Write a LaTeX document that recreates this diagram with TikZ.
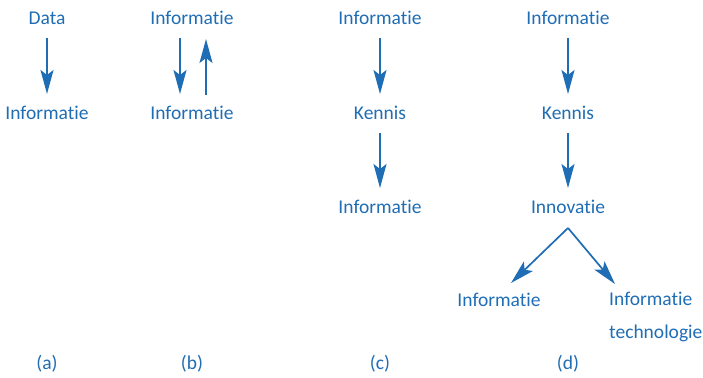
\documentclass[tikz,border=0pt]{standalone}
\usepackage{fontspec}
\setmainfont[Ligatures=NoCommon]{Carlito}
\usetikzlibrary{arrows.meta, positioning}
\definecolor{infoblue}{HTML}{1F6DB4}
\tikzset{
	term/.style={text=infoblue, font=\fontsize{19.5}{33}\selectfont, inner sep=0pt},
	flow/.style={draw=infoblue, line width=1.7pt, -{Stealth[length=24pt, width=13pt, inset=5pt]}}
}

\begin{document}
\begin{tikzpicture}[x=1pt, y=-1pt]
	\useasboundingbox (0,0) rectangle (703,377);

	% (a)
	\node[term] (a1) at (47,18) {Data};
	\node[term] (a2) at (47,113) {Informatie};
	\node[term] (alab) at (47,364) {(a)};
	\draw[flow] ([yshift=-20pt]a1.center) -- ([yshift=19pt]a2.center);

	% (b)
	\node[term] (b1) at (192,18) {Informatie};
	\node[term] (b2) at (192,113) {Informatie};
	\node[term] (blab) at (192,364) {(b)};
	\draw[flow] ([xshift=-12pt, yshift=-20pt]b1.center) -- ([xshift=-12pt, yshift=19pt]b2.center);
	\draw[flow] ([xshift=14pt, yshift=18pt]b2.center) -- ([xshift=14pt, yshift=-21pt]b1.center);

	% (c)
	\node[term] (c1) at (380,18) {Informatie};
	\node[term] (c2) at (380,113) {Kennis};
	\node[term] (c3) at (380,207) {Informatie};
	\node[term] (clab) at (380,364) {(c)};
	\draw[flow] ([yshift=-20pt]c1.center) -- ([yshift=19pt]c2.center);
	\draw[flow] ([yshift=-20pt]c2.center) -- ([yshift=19pt]c3.center);

	% (d)
	\node[term] (d1) at (568,18) {Informatie};
	\node[term] (d2) at (568,113) {Kennis};
	\node[term] (d3) at (568,207) {Innovatie};
	\node[term] (d4) at (499,300) {Informatie};
	\node[term, align=left, anchor=north west] (d5) at (609,292) {Informatie\\technologie};
	\node[term] (dlab) at (568,364) {(d)};
	\draw[flow] ([yshift=-20pt]d1.center) -- ([yshift=19pt]d2.center);
	\draw[flow] ([yshift=-20pt]d2.center) -- ([yshift=19pt]d3.center);
	\coordinate (split) at ([yshift=-21pt]d3.center);
	\draw[flow] (split) -- ([xshift=12pt, yshift=17pt]d4.center);
	\draw[flow] (split) -- ([xshift=6pt, yshift=8pt]d5.north west);
\end{tikzpicture}
\end{document}
